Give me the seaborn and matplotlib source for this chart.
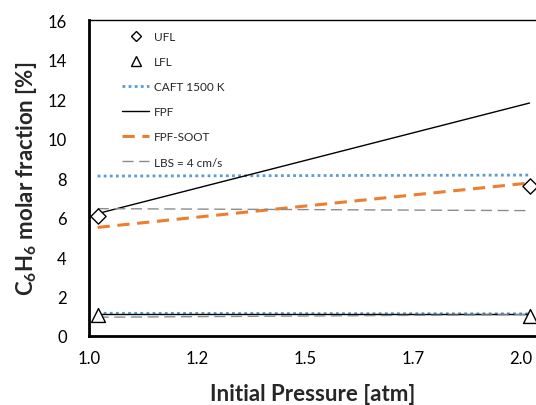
import numpy as np
import pandas as pd
import matplotlib
matplotlib.use("Agg")
import matplotlib.pyplot as plt
import seaborn as sns
from matplotlib.lines import Line2D

# ---------------------------------------------------------------------------
# Data
# ---------------------------------------------------------------------------
pressure = [1.02, 2.02]

ufl = [6.1, 7.6]
lfl = [1.05, 1.0]

caft_upper = [8.1, 8.15]
caft_lower = [1.15, 1.12]
fpf_upper = [6.2, 11.8]
fpf_lower = [1.1, 1.1]
soot_upper = [5.5, 7.75]
lbs_upper = [6.45, 6.35]
lbs_lower = [0.95, 1.08]

x_ticks = [1.0, 1.25, 1.5, 1.75, 2.0]
x_tick_labels = ["1.0", "1.2", "1.5", "1.7", "2.0"]
y_ticks = [0, 2, 4, 6, 8, 10, 12, 14, 16]

# ---------------------------------------------------------------------------
# Style
# ---------------------------------------------------------------------------
sns.set_style("white")
plt.rcParams["font.family"] = ["Lato", "DejaVu Sans"]
plt.rcParams["mathtext.fontset"] = "custom"
plt.rcParams["mathtext.rm"] = "Lato"
plt.rcParams["mathtext.bf"] = "Lato:bold"

BLUE = "#5B9BD5"
ORANGE = "#ED7D31"
GREY = "#8C8C8C"

fig = plt.figure(figsize=(5.36, 4.06), dpi=100)
ax = fig.add_axes([0.166, 0.170, 0.834, 0.778])

# lines
sns.lineplot(x=pressure, y=caft_upper, ax=ax, color=BLUE, lw=2.0, linestyle=(0, (1, 1.2)))
sns.lineplot(x=pressure, y=caft_lower, ax=ax, color=BLUE, lw=2.0, linestyle=(0, (1, 1.2)))
sns.lineplot(x=pressure, y=fpf_upper, ax=ax, color="black", lw=1.0)
sns.lineplot(x=pressure, y=fpf_lower, ax=ax, color="black", lw=1.0)
sns.lineplot(x=pressure, y=soot_upper, ax=ax, color=ORANGE, lw=2.2, linestyle=(0, (4, 2.5)))
sns.lineplot(x=pressure, y=lbs_upper, ax=ax, color=GREY, lw=1.0, linestyle=(0, (8, 4)))
sns.lineplot(x=pressure, y=lbs_lower, ax=ax, color=GREY, lw=1.0, linestyle=(0, (8, 4)))

# markers
sns.scatterplot(x=pressure, y=ufl, ax=ax, marker="D", s=60, facecolor="white",
                edgecolor="black", linewidth=1.0, zorder=5)
sns.scatterplot(x=pressure, y=lfl, ax=ax, marker="^", s=100, facecolor="white",
                edgecolor="black", linewidth=1.0, zorder=5)

ax.set_xlim(1.0, 2.035)
ax.set_ylim(0, 16)
ax.set_xticks(x_ticks)
ax.set_xticklabels(x_tick_labels)
ax.set_yticks(y_ticks)
ax.tick_params(axis="both", direction="in", length=4, width=1, labelsize=12,
               colors="black")
ax.tick_params(axis="y", pad=16)
ax.tick_params(axis="x", pad=10)

for side in ["left", "bottom"]:
    ax.spines[side].set_linewidth(2.0)
    ax.spines[side].set_color("black")
ax.spines["top"].set_linewidth(1.0)
ax.spines["top"].set_color("black")
ax.spines["right"].set_visible(False)

ax.set_xlabel("Initial Pressure [atm]", fontsize=16, fontweight="bold", labelpad=12)
ax.set_ylabel(r"$\mathbf{C_6H_6}$ molar fraction [%]", fontsize=16,
              fontweight="bold", labelpad=6)

# legend
handles = [
    Line2D([], [], marker="D", ls="none", mfc="white", mec="black", ms=5),
    Line2D([], [], marker="^", ls="none", mfc="white", mec="black", ms=7),
    Line2D([], [], color=BLUE, lw=2.0, ls=(0, (1, 1.2))),
    Line2D([], [], color="black", lw=1.0),
    Line2D([], [], color=ORANGE, lw=2.2, ls=(0, (4, 2.5))),
    Line2D([], [], color=GREY, lw=1.0, ls=(0, (8, 4))),
]
labels = ["UFL", "LFL", "CAFT 1500 K", "FPF", "FPF-SOOT", "LBS = 4 cm/s"]
ax.legend(handles, labels, loc="upper left", bbox_to_anchor=(0.05, 1.0),
          frameon=False, fontsize=8.5, labelspacing=1.2, handlelength=2.3,
          handletextpad=0.4)

fig.savefig("out.png", dpi=100)
